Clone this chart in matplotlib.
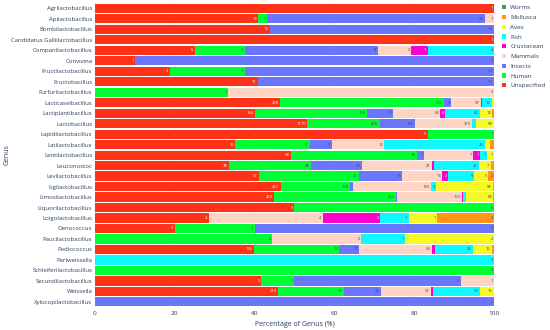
import matplotlib
matplotlib.use("Agg")
import matplotlib.pyplot as plt
from matplotlib.patches import Patch
import numpy as np

plt.rcParams["font.family"] = ["Open Sans", "DejaVu Sans"]

# Genus names (top to bottom)
genera = [
    "Agrilactobacillus", "Apilactobacillus", "Bombilactobacillus",
    "Candidatus Galliilactobacillus", "Companilactobacillus", "Convivina",
    "Fructilactobacillus", "Fructobacillus", "Furfurilactobacillus",
    "Lacticaseibacillus", "Lactiplantibacillus", "Lactobacillus",
    "Lapidilactobacillus", "Latilactobacillus", "Lentilactobacillus",
    "Leuconostoc", "Levilactobacillus", "Ligilactobacillus",
    "Limosilactobacillus", "Liquorilactobacillus", "Loigolactobacillus",
    "Oenococcus", "Paucilactobacillus", "Pediococcus", "Periweissella",
    "Schleiferilactobacillus", "Secundilactobacillus", "Weissella",
    "Xylocopilactobacillus",
]

# counts per host category, same order as genera
unspecified = [1, 18, 14, 1, 6, 1, 3, 11, 0, 228, 184, 1170, 5, 32, 28, 78, 57, 321, 450, 5, 4, 3, 0, 138, 0, 0, 5, 210, 0]
human       = [0, 1, 0, 0, 3, 0, 3, 0, 1, 202, 130, 400, 1, 17, 18, 48, 35, 120, 305, 5, 0, 3, 4, 74, 0, 3, 1, 75, 0]
insects     = [0, 24, 18, 0, 8, 9, 10, 16, 0, 9, 30, 192, 0, 5, 1, 30, 15, 5, 3, 0, 0, 9, 0, 17, 0, 0, 5, 43, 2]
mammals     = [0, 1, 0, 0, 2, 0, 0, 0, 2, 37, 54, 315, 0, 12, 7, 41, 14, 135, 163, 0, 4, 0, 2, 63, 0, 0, 1, 57, 0]
crustacean  = [0, 0, 0, 0, 1, 0, 0, 0, 0, 1, 6, 3, 0, 0, 1, 1, 2, 0, 2, 0, 2, 0, 0, 3, 0, 0, 0, 2, 0]
fish        = [0, 0, 0, 0, 4, 0, 0, 0, 0, 12, 40, 20, 0, 23, 1, 26, 9, 9, 8, 0, 1, 0, 1, 33, 3, 0, 0, 54, 0]
aves        = [0, 0, 0, 0, 0, 0, 0, 0, 0, 3, 14, 98, 0, 1, 1, 7, 5, 98, 68, 0, 1, 0, 2, 16, 0, 0, 0, 16, 0]
mollusca    = [0, 0, 0, 0, 0, 0, 0, 0, 0, 0, 2, 2, 0, 1, 0, 2, 2, 2, 2, 0, 2, 0, 0, 2, 0, 0, 0, 0, 0]
worms       = [0] * len(genera)

hosts = ["Unspecified", "Human", "Insects", "Mammals", "Crustacean", "Fish", "Aves", "Mollusca", "Worms"]
host_counts = [unspecified, human, insects, mammals, crustacean, fish, aves, mollusca, worms]
host_colors = ["#FD3216", "#00FE35", "#6A76FC", "#FED4C4", "#FE00CE", "#0DF9FF", "#F6F926", "#FF9616", "#479B55"]


def text_color(hex_color):
    r, g, b = (int(hex_color[i:i + 2], 16) / 255 for i in (1, 3, 5))
    lum = 0.299 * r + 0.587 * g + 0.114 * b
    return "white" if lum < 0.5 else "#444444"


counts = np.array(host_counts, dtype=float)
totals = counts.sum(axis=0)
pct = counts / totals * 100

fig = plt.figure(figsize=(5.5, 3.3), dpi=100)
ax = fig.add_axes([0.1727, 0.069, 0.7255, 0.9225])

y = np.arange(len(genera))
left = np.zeros(len(genera))
for name, vals, p, col in zip(hosts, counts, pct, host_colors):
    ax.barh(y, p, left=left, height=0.86, color=col, label=name, zorder=2)
    for i in range(len(genera)):
        label = f"{int(vals[i])}"
        # skip labels that would not fit inside their segment
        if vals[i] > 0 and p[i] >= 0.9 * len(label) + 0.3:
            ax.text(left[i] + p[i] - 0.3, y[i], label, ha="right", va="center",
                    fontsize=3.0, color=text_color(col), zorder=3)
    left += p

ax.set_xlim(0, 100)
ax.set_ylim(len(genera) - 0.5, -0.5)
ax.set_yticks(y)
ax.set_yticklabels(genera, fontsize=4.3, color="#2a3f5f")
ax.set_xticks([0, 20, 40, 60, 80, 100])
ax.tick_params(axis="x", labelsize=4.6, colors="#2a3f5f", length=0, pad=3)
ax.tick_params(axis="y", length=0, pad=2)
ax.grid(axis="x", color="#EBF0F8", lw=0.8, zorder=0)
for s in ax.spines.values():
    s.set_visible(False)
ax.set_xlabel("Percentage of Genus (%)", fontsize=5.0, color="#2a3f5f", labelpad=3)
ax.set_ylabel("Genus", fontsize=5.0, color="#2a3f5f")
ax.yaxis.set_label_coords(-0.212, 0.5)

# legend is reversed relative to the stacking order
handles = [Patch(facecolor=c, label=h) for h, c in zip(hosts, host_colors)][::-1]
fig.legend(handles=handles, loc="upper left", bbox_to_anchor=(0.908, 0.992), frameon=False,
           fontsize=4.6, handlelength=0.6, handleheight=0.6, handletextpad=0.7,
           labelspacing=0.7, borderaxespad=0, labelcolor="#2a3f5f")

plt.savefig("out.png", dpi=100)
